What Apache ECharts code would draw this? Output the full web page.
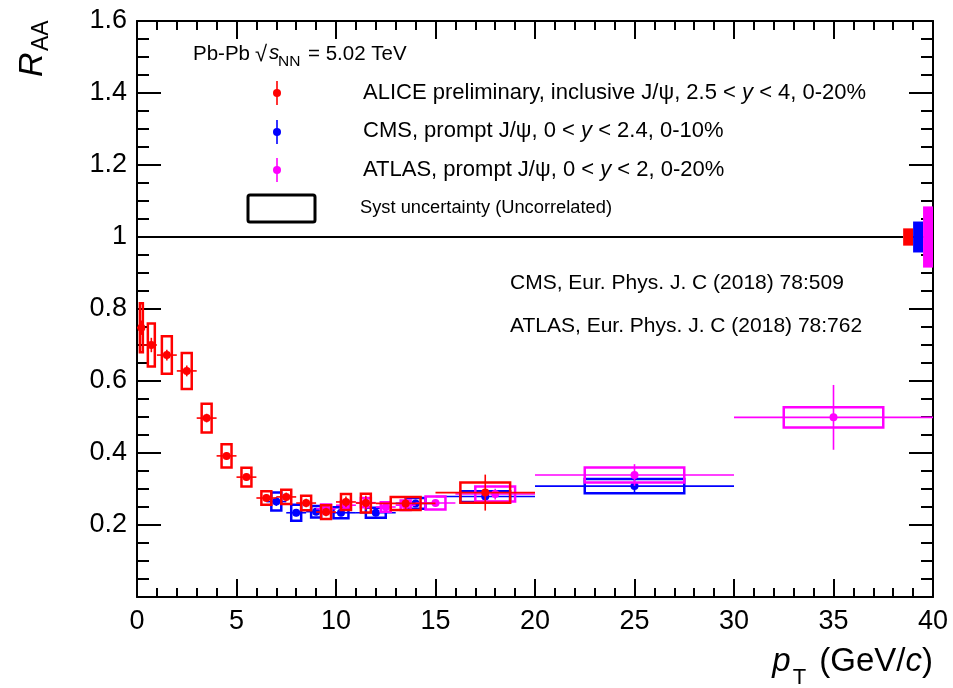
<!DOCTYPE html>
<html>
<head>
<meta charset="utf-8">
<script src="https://cdn.jsdelivr.net/npm/echarts@6/dist/echarts.min.js"></script>
<style>
  html, body { margin: 0; padding: 0; background: #fff; }
  #chart { width: 953px; height: 688px; }
</style>
</head>
<body>
<div id="chart"></div>
<script>
// ALICE preliminary, inclusive J/psi, 2.5 < y < 4, 0-20%
const alicePt   = [0.22, 0.72, 1.5, 2.5, 3.5, 4.5, 5.5, 6.5, 7.5, 8.5, 9.5, 10.5, 11.5, 13.5, 17.5];
const aliceLo   = [0, 0.3, 1, 2, 3, 4, 5, 6, 7, 8, 9, 10, 11, 12, 15];
const aliceHi   = [0.3, 1, 2, 3, 4, 5, 6, 7, 8, 9, 10, 11, 12, 15, 20];
const aliceRaa  = [0.748, 0.70, 0.672, 0.628, 0.497, 0.392, 0.333, 0.275, 0.278, 0.261, 0.236, 0.264, 0.261, 0.260, 0.290];
const aliceStat = [0.02, 0.02, 0.015, 0.015, 0.012, 0.01, 0.01, 0.01, 0.012, 0.012, 0.012, 0.015, 0.02, 0.02, 0.05];
const aliceSyst = [0.068, 0.06, 0.052, 0.05, 0.04, 0.032, 0.026, 0.019, 0.02, 0.02, 0.019, 0.022, 0.026, 0.018, 0.028];

// CMS, prompt J/psi, 0 < y < 2.4, 0-10%
const cmsPt   = [7, 8, 9, 10.25, 12, 14, 17.5, 25];
const cmsLo   = [6.5, 7.5, 8.5, 9.5, 11, 13, 15, 20];
const cmsHi   = [7.5, 8.5, 9.5, 11, 13, 15, 20, 30];
const cmsRaa  = [0.265, 0.234, 0.237, 0.234, 0.234, 0.260, 0.279, 0.308];
const cmsStat = [0.012, 0.01, 0.01, 0.01, 0.01, 0.01, 0.012, 0.02];
const cmsSyst = [0.025, 0.022, 0.016, 0.015, 0.014, 0.015, 0.015, 0.02];

// ATLAS, prompt J/psi, 0 < y < 2, 0-20%
const atlasPt   = [9.5, 10.5, 11.5, 12.5, 13.5, 15, 18, 25, 35];
const atlasLo   = [9, 10, 11, 12, 13, 14, 16, 20, 30];
const atlasHi   = [10, 11, 12, 13, 14, 16, 20, 30, 40];
const atlasRaa  = [0.245, 0.255, 0.262, 0.25, 0.255, 0.261, 0.286, 0.339, 0.499];
const atlasStat = [0.008, 0.008, 0.01, 0.01, 0.01, 0.01, 0.015, 0.03, 0.09];
const atlasSyst = [0.012, 0.012, 0.013, 0.013, 0.013, 0.018, 0.021, 0.021, 0.028];

// Correlated (global) uncertainties drawn at R_AA = 1
const globalLo  = [38.5, 39, 39.5];
const globalHi  = [39, 39.5, 40];
const globalUnc = [0.024, 0.043, 0.085];

const xTicks = [0, 5, 10, 15, 20, 25, 30, 35, 40];
const yTicks = [0.2, 0.4, 0.6, 0.8, 1, 1.2, 1.4, 1.6];

const RED = '#ff0000', BLUE = '#0000ff', MAGENTA = '#ff00ff';
const FONT = '"Liberation Sans", Arial, Helvetica, sans-serif';

function measurementSeries(name, color, pt, lo, hi, raa, stat, syst, z) {
  const data = pt.map((x, i) => [x, raa[i], lo[i], hi[i], stat[i], syst[i]]);
  return {
    type: 'custom',
    name: name,
    z: z,
    clip: true,
    data: data,
    renderItem: function (params, api) {
      const x = api.value(0), y = api.value(1);
      const l = api.value(2), h = api.value(3);
      const s = api.value(4), sy = api.value(5);
      const hw = (h - l) / 4;
      const p = api.coord([x, y]);
      const pl = api.coord([l, y]), ph = api.coord([h, y]);
      const su = api.coord([x, y + s]), sd = api.coord([x, y - s]);
      const b0 = api.coord([x - hw, y + sy]), b1 = api.coord([x + hw, y - sy]);
      return {
        type: 'group',
        children: [
          { type: 'rect', shape: { x: b0[0], y: b0[1], width: b1[0] - b0[0], height: b1[1] - b0[1] },
            style: { fill: 'none', stroke: color, lineWidth: 2.5 } },
          { type: 'line', shape: { x1: pl[0], y1: p[1], x2: ph[0], y2: p[1] },
            style: { stroke: color, lineWidth: 1.6 } },
          { type: 'line', shape: { x1: p[0], y1: sd[1], x2: p[0], y2: su[1] },
            style: { stroke: color, lineWidth: 1.6 } },
          { type: 'circle', shape: { cx: p[0], cy: p[1], r: 4 }, style: { fill: color } }
        ]
      };
    }
  };
}

const globalColors = [RED, BLUE, MAGENTA];
const globalSeries = {
  type: 'custom',
  z: 6,
  data: globalLo.map((l, i) => [l, globalHi[i], globalUnc[i], i]),
  renderItem: function (params, api) {
    const a = api.coord([api.value(0), 1 + api.value(2)]);
    const b = api.coord([api.value(1), 1 - api.value(2)]);
    return { type: 'rect', shape: { x: a[0], y: a[1], width: b[0] - a[0], height: b[1] - a[1] },
             style: { fill: globalColors[api.value(3)] } };
  }
};

const tickStyle = { color: '#000', width: 2 };
function xAxisDef(pos, showLabel) {
  return {
    type: 'value', position: pos, min: 0, max: 40, interval: 5,
    axisLine: { show: true, onZero: false, lineStyle: { color: '#000', width: 2 } },
    axisTick: { show: true, inside: true, length: 18, lineStyle: tickStyle },
    minorTick: { show: true, splitNumber: 5, length: 9, lineStyle: tickStyle },
    splitLine: { show: false },
    axisLabel: { show: showLabel, color: '#000', fontSize: 27, fontFamily: FONT, margin: 11,
                 formatter: v => xTicks.includes(v) ? String(v) : '' }
  };
}
function yAxisDef(pos, showLabel) {
  return {
    type: 'value', position: pos, min: 0, max: 1.6, interval: 0.2,
    axisLine: { show: true, onZero: false, lineStyle: { color: '#000', width: 2 } },
    axisTick: { show: true, inside: true, length: 24, lineStyle: tickStyle },
    minorTick: { show: true, splitNumber: 4, length: 12, lineStyle: tickStyle },
    splitLine: { show: false },
    axisLabel: { show: showLabel, color: '#000', fontSize: 27, fontFamily: FONT, margin: 10,
                 formatter: v => { const t = yTicks.find(k => Math.abs(k - v) < 1e-6); return t === undefined ? '' : String(t); } }
  };
}

function txt(x, y, text, size, opts) {
  return Object.assign({
    type: 'text', x: x, y: y, silent: true,
    style: Object.assign({ text: text, fontSize: size, fontFamily: FONT, fill: '#000',
                           align: 'left', verticalAlign: 'middle' }, (opts && opts.style) || {})
  }, opts && opts.el ? opts.el : {});
}

function legendMarker(y, color) {
  return [
    { type: 'line', shape: { x1: 277, y1: y - 12, x2: 277, y2: y + 12 }, style: { stroke: color, lineWidth: 1.6 } },
    { type: 'circle', shape: { cx: 277, cy: y, r: 4 }, style: { fill: color } }
  ];
}

function legendText(y, before, after) {
  const sz = 22;
  return { type: 'text', x: 363, y: y, silent: true, style: {
      text: '{n|' + before + '}{i|y}{n|' + after + '}',
      fontSize: sz, fontFamily: FONT, verticalAlign: 'middle',
      rich: { n: { fontSize: sz, fontFamily: FONT }, i: { fontSize: sz, fontFamily: FONT, fontStyle: 'italic' } } } };
}

const graphics = [
  // collision system and energy
  txt(193, 54, 'Pb-Pb', 20.5),
  txt(255, 55, '\u221A', 22),
  txt(269, 53, 's', 20.5, { style: { fontStyle: 'italic' } }),
  txt(278, 62, 'NN', 15.5),
  txt(308, 54, '= 5.02 TeV', 20.5),
  // legend entries
  ...legendMarker(93, RED),
  ...legendMarker(132, BLUE),
  ...legendMarker(170, MAGENTA),
  legendText(93, 'ALICE preliminary, inclusive J/\u03C8, 2.5 < ', ' < 4, 0-20%'),
  legendText(131, 'CMS, prompt J/\u03C8, 0 < ', ' < 2.4, 0-10%'),
  legendText(170, 'ATLAS, prompt J/\u03C8, 0 < ', ' < 2, 0-20%'),
  { type: 'rect', shape: { x: 248, y: 195, width: 67, height: 27, r: 2 },
    style: { fill: 'none', stroke: '#000', lineWidth: 3 } },
  txt(360, 208, 'Syst uncertainty (Uncorrelated)', 18.3),
  // publications
  txt(510, 283, 'CMS, Eur. Phys. J. C (2018) 78:509', 21),
  txt(510, 326, 'ATLAS, Eur. Phys. J. C (2018) 78:762', 21),
  // axis titles
  txt(33, 77, 'R', 34, { style: { fontStyle: 'italic' }, el: { rotation: Math.PI / 2 } }),
  txt(42, 51, 'AA', 23, { el: { rotation: Math.PI / 2 } }),
  { type: 'text', right: 20, top: 645, silent: true, style: {
      text: '{i|p}{s|T}{n| (GeV/}{i|c}{n|)}',
      fontFamily: FONT, fontSize: 33,
      rich: {
        i: { fontSize: 33, fontFamily: FONT, fontStyle: 'italic', lineHeight: 44, verticalAlign: 'top' },
        n: { fontSize: 33, fontFamily: FONT, lineHeight: 44, verticalAlign: 'top' },
        s: { fontSize: 22, fontFamily: FONT, lineHeight: 44, verticalAlign: 'bottom', padding: [0, 4, 0, 2] }
      } } }
];

const chart = echarts.init(document.getElementById('chart'), null, { renderer: 'canvas' });
chart.setOption({
  backgroundColor: '#fff',
  animation: false,
  grid: { left: 137, right: 20, top: 21, bottom: 91, containLabel: false },
  xAxis: [xAxisDef('bottom', true), xAxisDef('top', false)],
  yAxis: [yAxisDef('left', true), yAxisDef('right', false)],
  series: [
    { type: 'line', z: 3, symbol: 'none', silent: true,
      data: [[0, 1], [globalLo[0], 1]], lineStyle: { color: '#000', width: 2 } },
    globalSeries,
    measurementSeries('CMS', BLUE, cmsPt, cmsLo, cmsHi, cmsRaa, cmsStat, cmsSyst, 4),
    measurementSeries('ATLAS', MAGENTA, atlasPt, atlasLo, atlasHi, atlasRaa, atlasStat, atlasSyst, 5),
    measurementSeries('ALICE', RED, alicePt, aliceLo, aliceHi, aliceRaa, aliceStat, aliceSyst, 6)
  ],
  graphic: graphics
});
</script>
</body>
</html>
